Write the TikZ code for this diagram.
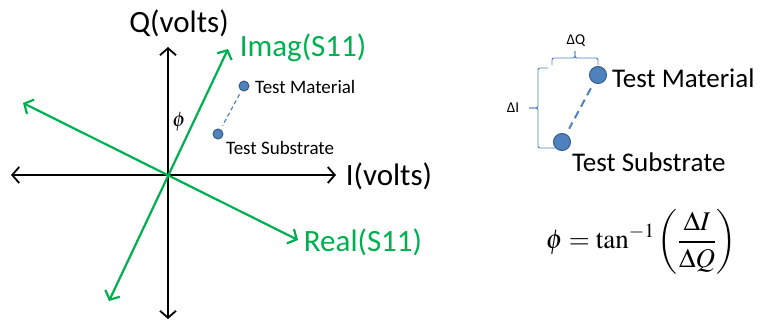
\documentclass[tikz,border=0pt]{standalone}
\usepackage{mathptmx}
\usepackage{fontspec}
\setmainfont{Carlito}
\usetikzlibrary{arrows.meta}
\definecolor{ogreen}{RGB}{0,176,80}
\definecolor{dotblue}{RGB}{79,129,189}
\definecolor{dotedge}{RGB}{56,93,138}
\tikzset{
  axis/.style={line width=1.8pt, black, {Straight Barb[length=7pt,width=16pt,line width=1.8pt]}-{Straight Barb[length=7pt,width=16pt,line width=1.8pt]}},
  garrow/.style={line width=2.2pt, ogreen, {Straight Barb[length=7pt,width=16pt,line width=2.2pt]}-{Straight Barb[length=7pt,width=16pt,line width=2.2pt]}},
  biglabel/.style={font=\fontsize{31}{36}\selectfont, inner sep=0pt},
  smalllabel/.style={font=\fontsize{19}{22}\selectfont, inner sep=0pt},
  midlabel/.style={font=\fontsize{27}{31}\selectfont, inner sep=0pt},
  dot/.style={circle, fill=dotblue, draw=dotedge, line width=1pt, inner sep=0pt, minimum size=#1},
  brace/.style={draw=dotblue, line width=0.9pt, rounded corners=2pt},
  deltalabel/.style={font=\fontsize{15}{18}\selectfont, inner sep=0pt},
}
\begin{document}
\begin{tikzpicture}[x=1pt,y=-1pt]
\useasboundingbox (0,0) rectangle (764,322);
% axes
\coordinate (O) at (168,175);
\coordinate (qt) at (168,47);
\coordinate (qb) at (168,319);
\coordinate (il) at (11,175);
\coordinate (ir) at (336,175);
\draw[axis] (qb) -- (qt);
\draw[axis] (il) -- (ir);
% green axes
\coordinate (imt) at (228,49);
\coordinate (imb) at (109,301);
\coordinate (rel) at (23,103);
\coordinate (rer) at (298,240);
\draw[garrow] (imb) -- (imt);
\draw[garrow] (rel) -- (rer);
% labels
\node[biglabel] (ql) at (179,23) {Q(volts)};
\node[biglabel, text=ogreen] (iml) at (303,48) {Imag(S11)};
\node[biglabel] (ivl) at (389,176) {I(volts)};
\node[biglabel, text=ogreen] (rel2) at (363,242) {Real(S11)};
\node[font=\fontsize{21}{24}\selectfont, inner sep=0pt] (phi) at (179,122) {$\phi$};
% left points
\node[dot=10pt] (tm) at (244,86) {};
\node[dot=10pt] (ts) at (218,134) {};
\draw[dotblue, line width=1.2pt, dash pattern=on 4pt off 3pt, shorten <=4pt, shorten >=4pt] (tm) -- (ts);
\node[smalllabel, anchor=west] (tml) at (255,87) {Test Material};
\node[smalllabel, anchor=west] (tsl) at (226,148) {Test Substrate};
% right points
\node[dot=17pt] (tm2) at (598,75) {};
\node[dot=17pt] (ts2) at (562,142) {};
\draw[dotblue, line width=2pt, dash pattern=on 8pt off 5pt, shorten <=6pt, shorten >=6pt] (tm2) -- (ts2);
\node[midlabel, anchor=west] (tml2) at (612,78) {Test Material};
\node[midlabel, anchor=west] (tsl2) at (572,162) {Test Substrate};
% braces
\draw[brace] (552,65) -- (552,58) -- (575,58) -- (575,51);
\draw[brace] (575,51) -- (575,58) -- (598,58) -- (598,65);
\draw[brace] (548,68) -- (538,68) -- (538,108) -- (529,108);
\draw[brace] (529,108) -- (538,108) -- (538,148) -- (555,148);
\node[deltalabel] (dq) at (576,41) {ΔQ};
\node[deltalabel] (di) at (513,108) {ΔI};
% formula
\node[font=\fontsize{27}{32}\selectfont, inner sep=0pt] (eq) at (641,242) {$\displaystyle \phi = \tan^{-1}\left(\frac{\Delta I}{\Delta Q}\right)$};
\end{tikzpicture}
\end{document}
